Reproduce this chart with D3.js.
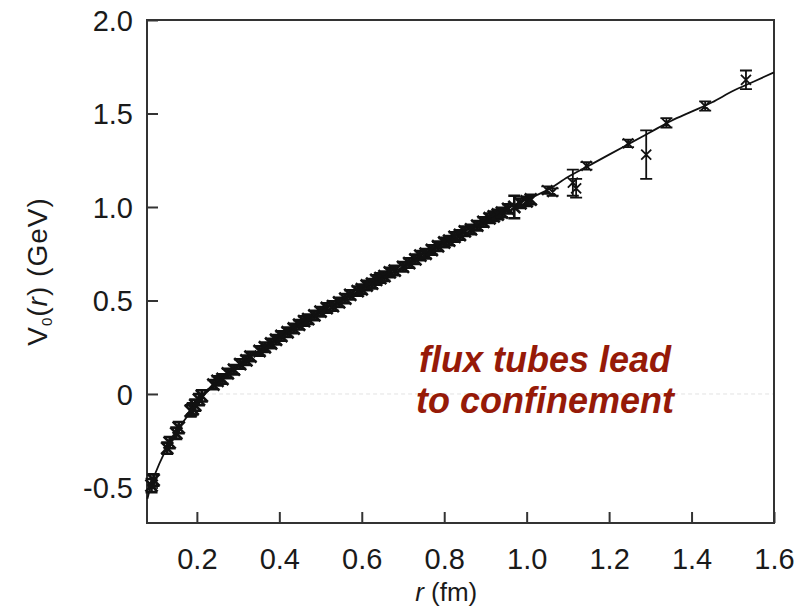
<!DOCTYPE html>
<html>
<head>
<meta charset="utf-8">
<script src="https://cdn.jsdelivr.net/npm/d3@7"></script>
<style>
  body { margin: 0; background: #fff; }
  text { font-family: "Liberation Sans", Arial, sans-serif; fill: #1a1a1a; }
</style>
</head>
<body>
<div id="chart"></div>
<script>
// lattice points: r (fm), V0(r) (GeV), error
var pointR = [0.090,0.095,0.128,0.134,0.150,0.156,0.185,0.190,0.196,0.205,0.212,0.240,0.250,0.262,0.275,0.290,0.305,0.320,0.330,0.352,0.365,0.380,0.392,0.405,0.420,0.435,0.448,0.460,0.470,0.485,0.500,0.515,0.530,0.545,0.560,0.572,0.590,0.600,0.612,0.625,0.635,0.645,0.655,0.668,0.680,0.700,0.715,0.730,0.742,0.755,0.770,0.785,0.800,0.812,0.825,0.838,0.850,0.865,0.880,0.895,0.910,0.920,0.930,0.940,0.955,0.970,0.985,1.000,1.010,
  1.050,1.063,1.112,1.120,1.145,1.246,1.290,1.339,1.433,1.532];
var pointV = [-0.49,-0.46,-0.29,-0.26,-0.21,-0.18,-0.09,-0.08,-0.06,-0.03,-0.01,0.05,0.07,0.08,0.11,0.13,0.16,0.18,0.20,0.23,0.25,0.27,0.29,0.31,0.33,0.35,0.37,0.39,0.40,0.42,0.44,0.46,0.47,0.49,0.51,0.53,0.55,0.56,0.58,0.59,0.61,0.62,0.63,0.65,0.66,0.68,0.70,0.72,0.74,0.75,0.77,0.79,0.81,0.82,0.84,0.85,0.87,0.88,0.90,0.92,0.94,0.95,0.96,0.97,0.99,1.00,1.02,1.03,1.04,
  1.09,1.08,1.13,1.10,1.22,1.34,1.28,1.45,1.54,1.68];
var pointErr = [0.035,0.03,0.03,0.03,0.03,0.03,0.03,0.03,0.03,0.03,0.03,0.025,0.025,0.025,0.025,0.025,0.025,0.025,0.025,0.025,0.025,0.025,0.025,0.025,0.025,0.025,0.025,0.025,0.025,0.025,0.025,0.025,0.025,0.025,0.025,0.025,0.025,0.025,0.025,0.025,0.025,0.025,0.025,0.025,0.025,0.025,0.025,0.025,0.025,0.025,0.025,0.025,0.025,0.025,0.025,0.025,0.025,0.025,0.025,0.025,0.025,0.025,0.025,0.025,0.025,0.06,0.025,0.025,0.025,
  0.02,0.02,0.07,0.05,0.02,0.02,0.13,0.025,0.025,0.05];

// fitted curve
var fitR = [0.08,0.09,0.10,0.12,0.14,0.16,0.18,0.20,0.22,0.25,0.30,0.35,0.40,0.45,0.50,0.55,0.60,0.65,0.70,0.75,0.80,0.85,0.90,0.95,1.00,1.05,1.10,1.15,1.20,1.25,1.30,1.35,1.40,1.45,1.50,1.55,1.60];
var fitV = [-0.56,-0.48,-0.42,-0.32,-0.24,-0.17,-0.11,-0.05,0.00,0.06,0.15,0.23,0.30,0.37,0.44,0.50,0.56,0.62,0.68,0.75,0.81,0.87,0.93,0.99,1.04,1.09,1.16,1.22,1.28,1.34,1.40,1.46,1.51,1.56,1.62,1.67,1.72];

var xTicks = [0.2,0.4,0.6,0.8,1.0,1.2,1.4,1.6];
var xTickLabels = ["0.2","0.4","0.6","0.8","1.0","1.2","1.4","1.6"];
var yTicks = [-0.5,0,0.5,1.0,1.5,2.0];
var yTickLabels = ["-0.5","0","0.5","1.0","1.5","2.0"];

var w = 805, h = 609;
var margin = { top: 20, right: 31, bottom: 86, left: 147 };

var svg = d3.select("#chart").append("svg")
    .attr("width", w)
    .attr("height", h);

var x = d3.scaleLinear()
    .domain([0.079, 1.6])
    .range([margin.left, w - margin.right]);

var y = d3.scaleLinear()
    .domain([-0.69, 2.0])
    .range([h - margin.bottom, margin.top]);

// faint zero line
svg.append("line")
    .attr("x1", x(0.22)).attr("x2", x(1.6))
    .attr("y1", y(0)).attr("y2", y(0))
    .attr("stroke", "#e2e2e2")
    .attr("stroke-dasharray", "4,3");

// axes, ticks pointing inward
var xAxis = d3.axisBottom(x)
    .tickValues(xTicks)
    .tickSizeInner(-11)
    .tickSizeOuter(0)
    .tickPadding(0)
    .tickFormat(function(d, i) { return xTickLabels[i]; });

var yAxis = d3.axisLeft(y)
    .tickValues(yTicks)
    .tickSizeInner(-11)
    .tickSizeOuter(0)
    .tickPadding(0)
    .tickFormat(function(d, i) { return yTickLabels[i]; });

var gx = svg.append("g")
    .attr("transform", "translate(0," + (h - margin.bottom) + ")")
    .call(xAxis);
var gy = svg.append("g")
    .attr("transform", "translate(" + margin.left + ",0)")
    .call(yAxis);

[gx, gy].forEach(function(g) {
    g.select(".domain").remove();
    g.selectAll(".tick line").attr("stroke", "#333").attr("stroke-width", 2);
    g.selectAll(".tick text")
        .style("font-family", "'Liberation Sans', Arial, sans-serif")
        .style("font-size", "29px")
        .attr("fill", "#1a1a1a");
});
gx.selectAll(".tick text").attr("y", 25).attr("dy", "0.71em");
gy.selectAll(".tick text").attr("x", -14).attr("dy", "0.35em");

// frame
svg.append("rect")
    .attr("x", x(0.079))
    .attr("y", y(2.0))
    .attr("width", x(1.6) - x(0.079))
    .attr("height", y(-0.69) - y(2.0))
    .attr("fill", "none")
    .attr("stroke", "#333")
    .attr("stroke-width", 2);

// fit curve
var line = d3.line()
    .x(function(d) { return x(d[0]); })
    .y(function(d) { return y(d[1]); })
    .curve(d3.curveMonotoneX);

svg.append("path")
    .datum(fitR.map(function(r, i) { return [r, fitV[i]]; }))
    .attr("d", line)
    .attr("fill", "none")
    .attr("stroke", "#111")
    .attr("stroke-width", 1.8);

// data points: cross + error bar with caps
var pts = pointR.map(function(r, i) { return { r: r, v: pointV[i], e: pointErr[i], dense: r < 1.02 }; });

var mk = svg.selectAll(".pt")
    .data(pts)
    .enter()
    .append("g")
    .attr("class", "pt")
    .attr("stroke", "#111")
    .attr("stroke-width", function(d) { return d.dense ? 2.6 : 1.8; })
    .attr("transform", function(d) { return "translate(" + x(d.r) + "," + y(d.v) + ")"; });

mk.append("path")
    .attr("d", function(d) {
        var s = d.dense ? 6 : 5;
        var top = y(d.v + d.e) - y(d.v), bot = y(d.v - d.e) - y(d.v);
        return "M" + (-s) + "," + (-s) + "L" + s + "," + s +
            "M" + (-s) + "," + s + "L" + s + "," + (-s) +
            "M0," + top + "L0," + bot +
            "M-6," + top + "L6," + top +
            "M-6," + bot + "L6," + bot;
    })
    .attr("fill", "none");

// axis titles
svg.append("text")
    .attr("x", x(0.8) + 2)
    .attr("y", 601)
    .attr("text-anchor", "middle")
    .style("font-size", "26px")
    .html('<tspan font-style="italic">r</tspan> (fm)');

var yt = svg.append("text")
    .attr("transform", "translate(47," + ((margin.top + h - margin.bottom) / 2) + ") rotate(-90)")
    .attr("text-anchor", "middle")
    .style("font-size", "28px")
    .style("letter-spacing", "1px");
yt.append("tspan").text("V");
yt.append("tspan").attr("font-size", "15px").attr("dy", 5).text("0");
yt.append("tspan").attr("dy", -5).text("(");
yt.append("tspan").attr("font-style", "italic").text("r");
yt.append("tspan").text(") (GeV)");

// annotation
var note = svg.append("text")
    .attr("text-anchor", "middle")
    .style("font-size", "36px")
    .style("font-weight", "bold")
    .style("font-style", "italic")
    .style("fill", "#961a08");
note.append("tspan").attr("x", 545).attr("y", 372).text("flux tubes lead");
note.append("tspan").attr("x", 545).attr("y", 413).text("to confinement");
</script>
</body>
</html>
